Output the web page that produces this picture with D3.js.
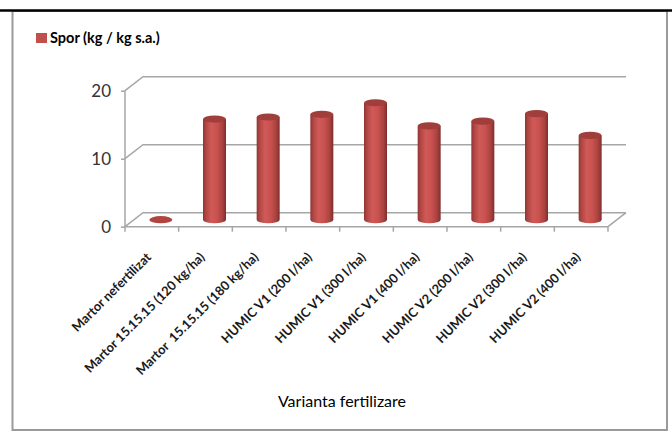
<!DOCTYPE html>
<html>
<head>
<meta charset="utf-8">
<script src="https://cdn.jsdelivr.net/npm/d3@7"></script>
<style>
  html, body { margin: 0; padding: 0; background: #fff; }
  svg { display: block; }
  text { font-family: Lato, "Open Sans", sans-serif; }
</style>
</head>
<body>
<svg id="chart" width="672" height="438"></svg>
<script>
// Spor de producție pe variante de fertilizare
const categories = [
  "Martor nefertilizat",
  "Martor 15.15.15 (120 kg/ha)",
  "Martor  15.15.15 (180 kg/ha)",
  "HUMIC V1 (200 l/ha)",
  "HUMIC V1 (300 l/ha)",
  "HUMIC V1 (400 l/ha)",
  "HUMIC V2 (200 l/ha)",
  "HUMIC V2 (300 l/ha)",
  "HUMIC V2 (400 l/ha)"
];
const values = [0, 14.8, 15.1, 15.5, 17.2, 13.8, 14.5, 15.6, 12.4];
const yTicks = [0, 10, 20];
const seriesName = "Spor (kg / kg s.a.)";
const axisTitle = "Varianta fertilizare";

const svg = d3.select("#chart");
const W = 672, H = 438;

// frame: black rule on top, grey border around the chart area
svg.append("rect").attr("x", 12.5).attr("y", 11).attr("width", 654.5).attr("height", 419)
  .attr("fill", "#fff").attr("stroke", "#9a9a9a").attr("stroke-width", 2);
svg.append("line").attr("x1", 0).attr("x2", W).attr("y1", 10.5).attr("y2", 10.5)
  .attr("stroke", "#000").attr("stroke-width", 2.5);

// 3D box geometry
const depthX = 18, depthY = -14;
const x = d3.scaleBand().domain(categories).range([125, 608]).padding(0);
const y = d3.scaleLinear().domain([0, 20]).range([226.7, 90.7]);
const bw = x.bandwidth();
const gridColor = "#a6a6a6";

const grid = svg.append("g");
// walls: gridlines run along the left wall and across the back wall
yTicks.forEach(t => {
  const yy = y(t);
  grid.append("path")
    .attr("d", `M${x.range()[0]},${yy} L${x.range()[0] + depthX},${yy + depthY} L${x.range()[1] + depthX},${yy + depthY}`)
    .attr("fill", "none").attr("stroke", gridColor).attr("stroke-width", 1.5);
});
// floor right edge
grid.append("line")
  .attr("x1", x.range()[1]).attr("y1", y(0))
  .attr("x2", x.range()[1] + depthX).attr("y2", y(0) + depthY)
  .attr("stroke", gridColor).attr("stroke-width", 1.5);

// value axis
const yAxis = svg.append("g").attr("transform", "translate(125,0)")
  .call(d3.axisLeft(y).tickValues(yTicks).tickSize(4).tickPadding(10).tickFormat(d3.format("d")));
yAxis.select(".domain").attr("stroke", gridColor).attr("stroke-width", 1.5)
  .attr("d", `M0,${y(20)}V${y(0)}`);
yAxis.selectAll(".tick line").attr("stroke", gridColor).attr("stroke-width", 1.5);
yAxis.selectAll(".tick text").attr("fill", "#333").style("font-size", "17px")
  .style("font-family", "Lato, sans-serif").attr("dy", "0.36em");

// category axis
const xAxis = svg.append("g").attr("transform", `translate(0,${y(0)})`);
xAxis.append("line").attr("x1", x.range()[0]).attr("x2", x.range()[1])
  .attr("stroke", gridColor).attr("stroke-width", 1.5);
const edges = categories.map(c => x(c)).concat([x.range()[1]]);
xAxis.selectAll("line.tk").data(edges).enter().append("line").attr("class", "tk")
  .attr("x1", d => d).attr("x2", d => d).attr("y1", 0).attr("y2", 5)
  .attr("stroke", gridColor).attr("stroke-width", 1.5);

// cylinder shading
const defs = svg.append("defs");
const grad = defs.append("linearGradient").attr("id", "cyl").attr("x1", "0").attr("x2", "1").attr("y1", "0").attr("y2", "0");
[[0, "#8e3533"], [0.12, "#b04542"], [0.35, "#cf5a57"], [0.6, "#c9524f"], [0.85, "#a9413e"], [1, "#7c2e2c"]]
  .forEach(([o, c]) => grad.append("stop").attr("offset", o).attr("stop-color", c));

const rx = 11.5, ry = 3.6;
const bars = svg.append("g");
categories.forEach((c, i) => {
  const v = values[i];
  const cx = x(c) + bw / 2 + depthX / 2;
  const baseY = y(0) + depthY / 2;
  const topY = y(v) + depthY / 2;
  if (v > 0) {
    bars.append("path")
      .attr("d", `M${cx - rx},${topY} L${cx - rx},${baseY} A${rx},${ry} 0 0 0 ${cx + rx},${baseY} L${cx + rx},${topY} Z`)
      .attr("fill", "url(#cyl)");
  }
  bars.append("ellipse").attr("cx", cx).attr("cy", topY).attr("rx", rx).attr("ry", ry)
    .attr("fill", v > 0 ? "#a03e3b" : "#b0443f");
});

// category labels, rotated
svg.append("g").selectAll("text").data(categories).enter().append("text")
  .attr("transform", d => `translate(${x(d) + bw / 2},${258}) rotate(-45)`)
  .attr("text-anchor", "end")
  .style("font-size", "12.9px").style("font-weight", "bold")
  .attr("fill", "#1a1a1a")
  .attr("xml:space", "preserve")
  .style("white-space", "pre")
  .text(d => d);

// axis title
svg.append("text").attr("x", 342).attr("y", 407).attr("text-anchor", "middle")
  .style("font-size", "16px").attr("fill", "#000").text(axisTitle);

// legend
svg.append("rect").attr("x", 36).attr("y", 33).attr("width", 11).attr("height", 10).attr("fill", "#c0504d");
svg.append("text").attr("x", 50).attr("y", 43)
  .style("font-size", "14.5px").style("font-weight", "bold").attr("fill", "#000").text(seriesName);
</script>
</body>
</html>
